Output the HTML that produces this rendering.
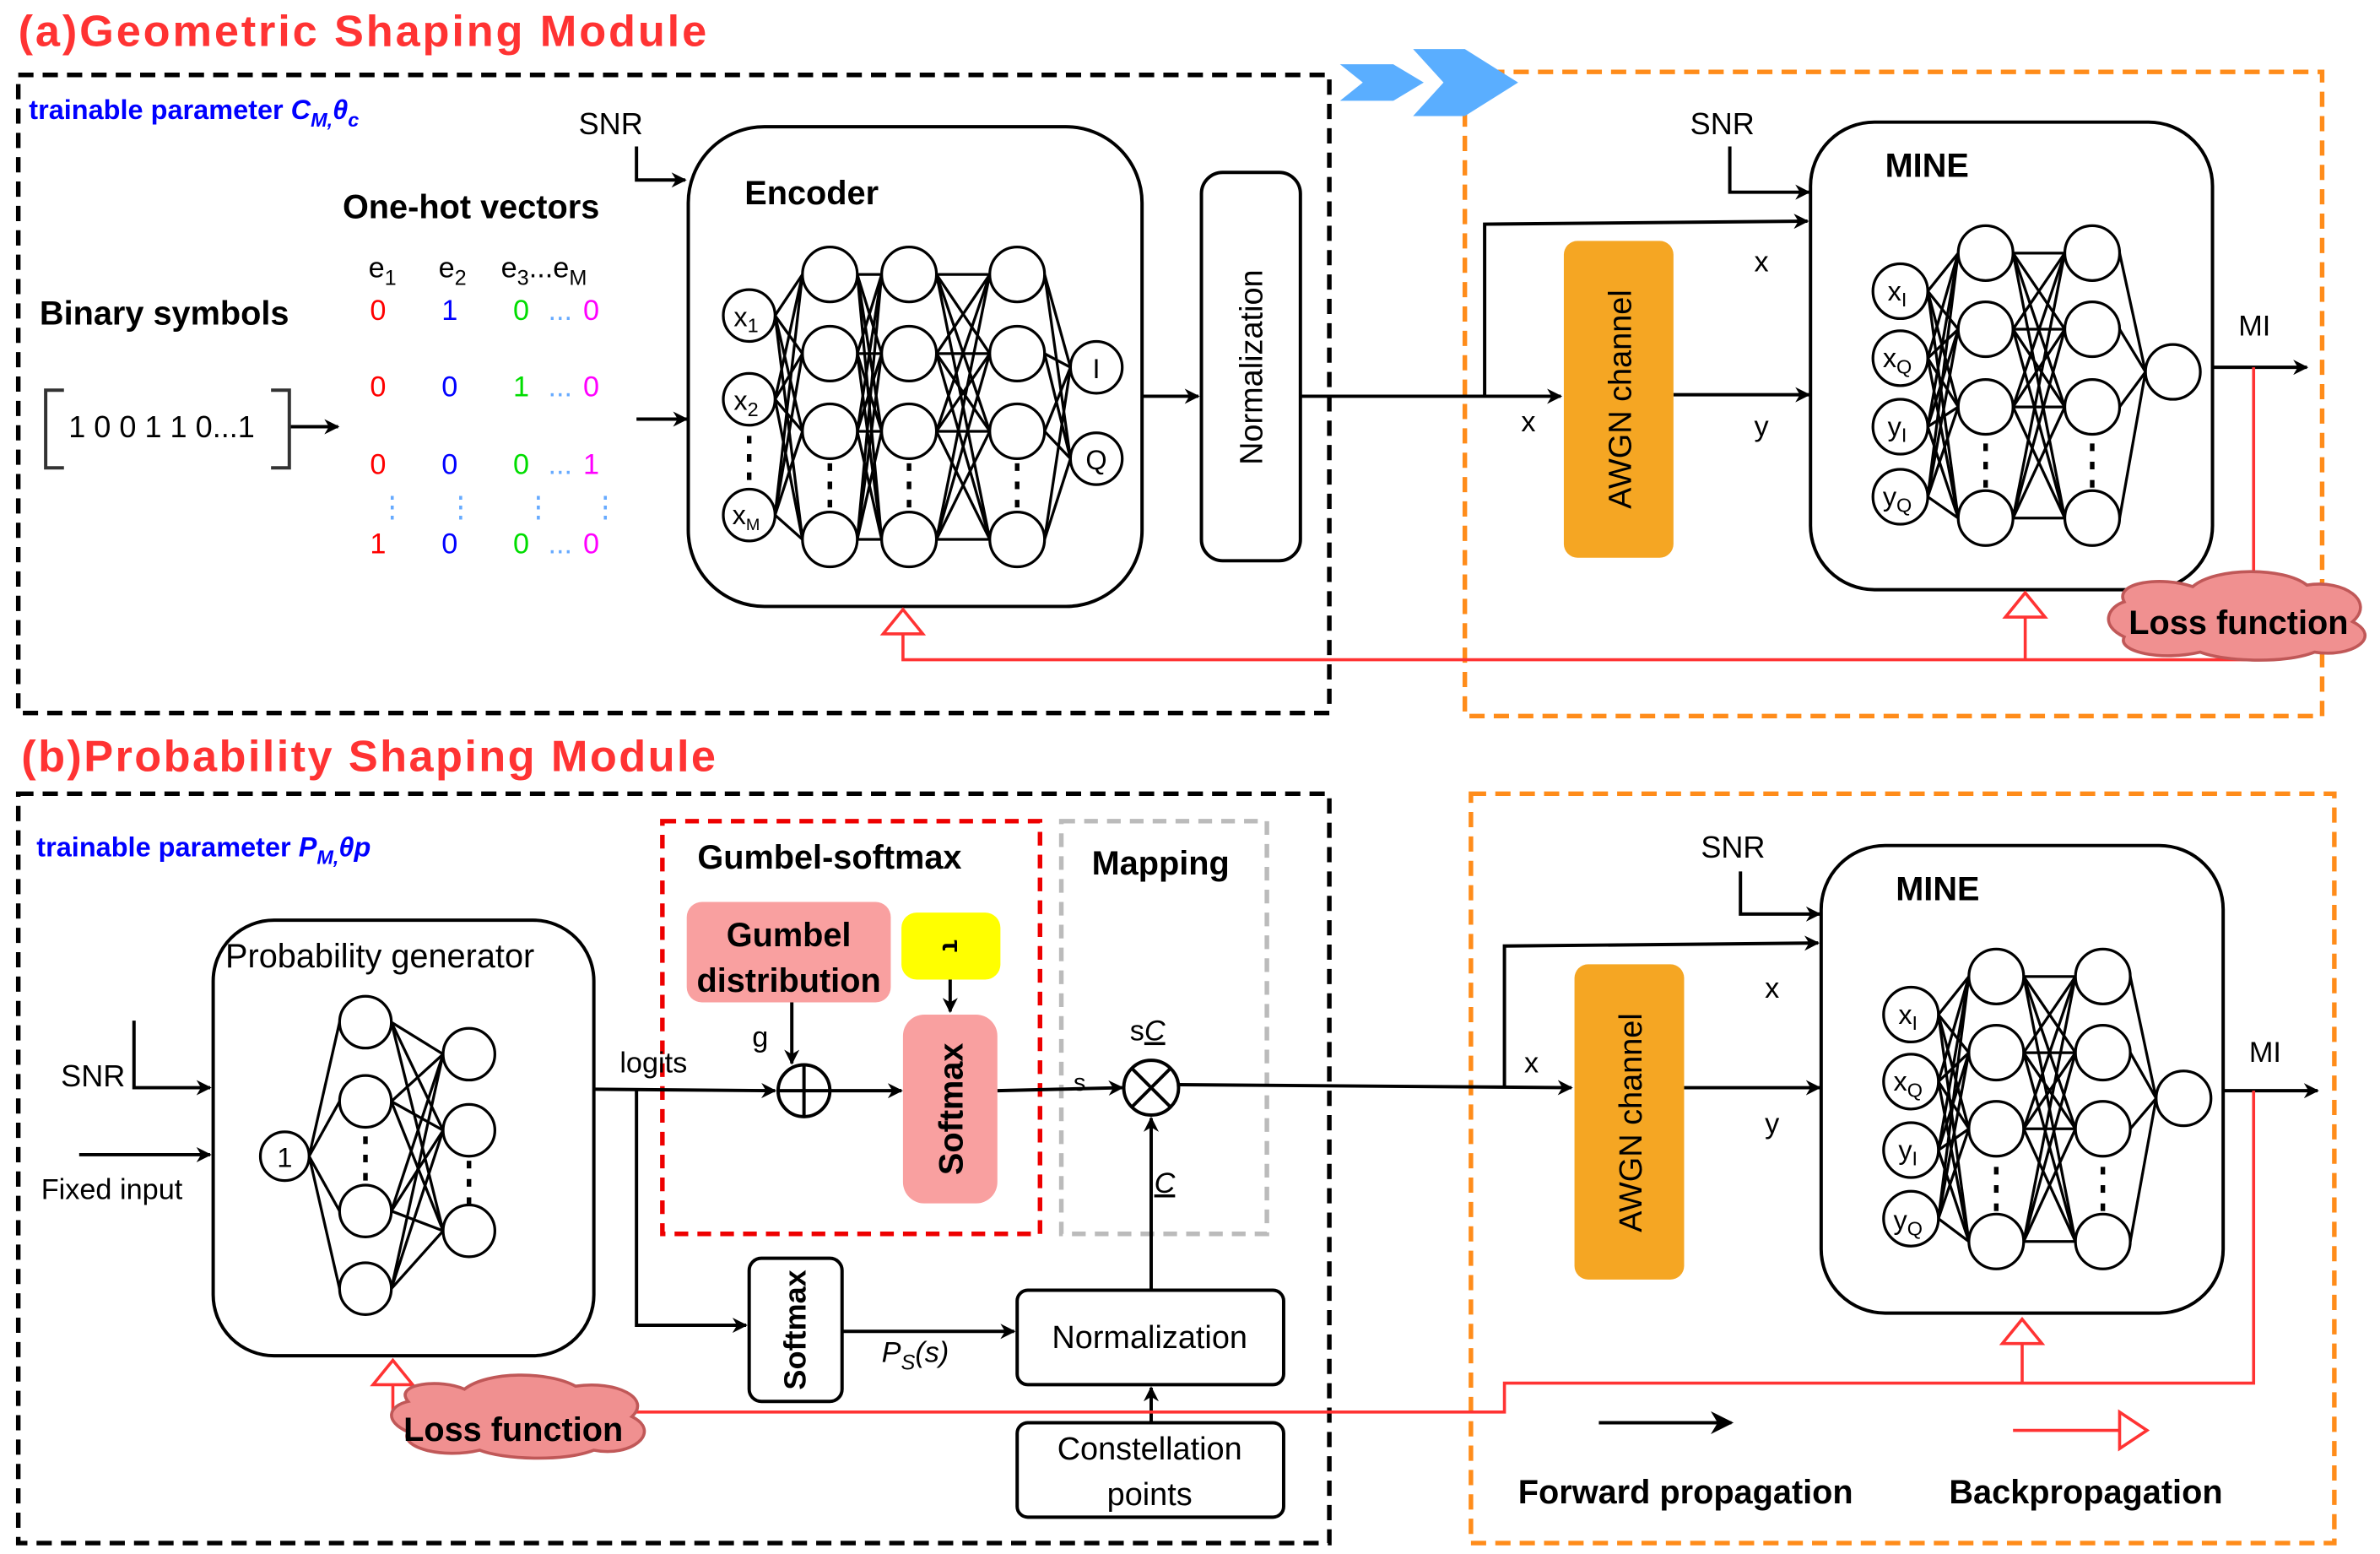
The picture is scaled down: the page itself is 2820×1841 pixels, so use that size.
<!DOCTYPE html>
<html><head><meta charset="utf-8"><style>
html,body{margin:0;padding:0;background:#fff}
svg{display:block}
text{font-family:"Liberation Sans",sans-serif}
.b{font-weight:bold}
</style></head><body>
<svg id="s" width="2820" height="1841" viewBox="0 0 1563 1020" xmlns="http://www.w3.org/2000/svg">
<defs>
<marker id="ar" viewBox="0 0 10 10" refX="9" refY="5" markerWidth="10" markerHeight="10" markerUnits="userSpaceOnUse" orient="auto"><path d="M0,0 L10,5 L0,10 L3,5z" fill="#000"/></marker>
<marker id="ar2" viewBox="0 0 10 10" refX="9" refY="5" markerWidth="15" markerHeight="15" markerUnits="userSpaceOnUse" orient="auto"><path d="M0,0 L10,5 L0,10 L3,5z" fill="#000"/></marker>
</defs>
<g fill="none" stroke-width="2">
<rect x="12" y="49" width="861" height="419" stroke="#000" stroke-width="3" stroke-dasharray="10,6"/>
<rect x="962" y="47" width="563" height="423" stroke="#ff8c1a" stroke-width="3" stroke-dasharray="10,6"/>
<rect x="12" y="521" width="861" height="492" stroke="#000" stroke-width="3" stroke-dasharray="10,6"/>
<rect x="966" y="521" width="567" height="492" stroke="#ff8c1a" stroke-width="3" stroke-dasharray="10,6"/>
<rect x="435" y="539" width="248" height="271" stroke="#e00" stroke-width="3" stroke-dasharray="9,6"/>
<rect x="697" y="539" width="135" height="271" stroke="#bbb" stroke-width="3" stroke-dasharray="9,6"/>
</g>
<path d="M880,42 L915,42 L935,54 L915,66 L880,66 L895,54z" fill="#5aaeff"/>
<path d="M928,32 L962,32 L997,54 L962,76 L928,76 L948,54z" fill="#5aaeff"/>

<text x="12" y="30" font-size="29" fill="#f33" class="b" textLength="452">(a)Geometric Shaping  Module</text>
<text x="14" y="506" font-size="29" fill="#f33" class="b" textLength="456">(b)Probability Shaping Module</text>
<text x="19" y="78" font-size="18" fill="#00f" class="b">trainable parameter <tspan font-style="italic">C<tspan font-size="13" dy="5">M,</tspan><tspan dy="-5">θ</tspan><tspan font-size="13" dy="5">c</tspan></tspan></text>
<text x="24" y="562" font-size="18" fill="#00f" class="b">trainable parameter <tspan font-style="italic">P<tspan font-size="13" dy="5">M,</tspan><tspan dy="-5">θp</tspan></tspan></text>

<g stroke="#000" stroke-width="2.2" fill="none">
<polyline points="418,96 418,118 450,118" marker-end="url(#ar)"/>
<line x1="190" y1="280" x2="222" y2="280" marker-end="url(#ar)"/>
<line x1="418" y1="275" x2="451" y2="275" marker-end="url(#ar)"/>
<path d="M42,256 H30 V307 H42 M178,256 H190 V307 H178" stroke="#333"/>
<rect x="452" y="83" width="298" height="315" rx="50"/>
<line x1="750" y1="260" x2="787" y2="260" marker-end="url(#ar)"/>
<rect x="789" y="113" width="65" height="255" rx="14"/>
<line x1="854" y1="260" x2="1025" y2="260" marker-end="url(#ar)"/>
<polyline points="975,260 975,147 1187,145" marker-end="url(#ar)"/>
<line x1="1099" y1="259" x2="1188" y2="259" marker-end="url(#ar)"/>
<polyline points="1136,96 1136,126 1188,126" marker-end="url(#ar)"/>
<rect x="1189" y="80" width="264" height="307" rx="42"/>
<line x1="1453" y1="241" x2="1515" y2="241" marker-end="url(#ar)"/>
<polyline points="88,670 88,714 138,714" marker-end="url(#ar)"/>
<line x1="52" y1="758" x2="138" y2="758" marker-end="url(#ar)"/>
<rect x="140" y="604" width="250" height="286" rx="40"/>
<line x1="390" y1="715" x2="509" y2="716" marker-end="url(#ar)"/>
<polyline points="418,715 418,870 490,870" marker-end="url(#ar)"/>
<line x1="520" y1="658" x2="520" y2="698" marker-end="url(#ar)"/>
<line x1="624" y1="643" x2="624" y2="664" marker-end="url(#ar)"/>
<line x1="545" y1="716" x2="592" y2="716" marker-end="url(#ar)"/>
<circle cx="528" cy="716" r="17"/>
<path d="M511,716 H545 M528,699 V733"/>
<line x1="655" y1="716" x2="737" y2="714" marker-end="url(#ar)"/>
<circle cx="756" cy="714" r="18"/>
<path d="M743,701 L769,727 M769,701 L743,727"/>
<line x1="774" y1="712" x2="1032" y2="714" marker-end="url(#ar)"/>
<polyline points="988,713 988,621 1194,619" marker-end="url(#ar)"/>
<line x1="756" y1="847" x2="756" y2="734" marker-end="url(#ar)"/>
<rect x="492" y="826" width="61" height="94" rx="8"/>
<line x1="553" y1="874" x2="666" y2="874" marker-end="url(#ar)"/>
<rect x="668" y="847" width="175" height="62" rx="7"/>
<rect x="668" y="934" width="175" height="62" rx="7"/>
<line x1="756" y1="934" x2="756" y2="911" marker-end="url(#ar)"/>
<line x1="1106" y1="714" x2="1195" y2="714" marker-end="url(#ar)"/>
<polyline points="1143,572 1143,600 1195,600" marker-end="url(#ar)"/>
<rect x="1196" y="555" width="264" height="307" rx="42"/>
<line x1="1460" y1="716" x2="1522" y2="716" marker-end="url(#ar)"/>
<line x1="1050" y1="934" x2="1137" y2="934" marker-end="url(#ar2)"/>
</g>

<g stroke="#f33" stroke-width="2" fill="none">
<polyline points="1480,241 1480,433 593,433 593,414"/>
<line x1="1330" y1="433" x2="1330" y2="404"/>
<path d="M593,400 L580,416 L606,416z" fill="#fff"/>
<path d="M1330,389 L1317,405 L1343,405z" fill="#fff"/>
<polyline points="1480,716 1480,908 988,908 988,927 258,927 258,908"/>
<line x1="1328" y1="908" x2="1328" y2="880"/>
<path d="M258,893 L245,909 L271,909z" fill="#fff"/>
<path d="M1328,866 L1315,882 L1341,882z" fill="#fff"/>
<line x1="1322" y1="939" x2="1392" y2="939"/>
<path d="M1392,927 L1410,939 L1392,951z" fill="#fff"/>
</g>

<g fill="#f09090" stroke="#c05858" stroke-width="2">
<path d="M1395,395 C1388,382 1420,378 1440,385 C1455,372 1500,372 1515,384 C1540,380 1560,395 1545,408 C1565,418 1545,432 1520,428 C1500,436 1460,434 1445,428 C1420,434 1390,428 1395,418 C1378,410 1385,398 1395,395z"/>
<path d="M268,920 C258,908 290,905 305,912 C320,900 360,900 378,910 C405,906 428,918 415,930 C435,940 415,957 390,952 C370,960 330,958 315,952 C290,958 262,950 268,940 C252,933 255,923 268,920z"/>
</g>
<text x="1398" y="416" font-size="22" class="b">Loss function</text>
<text x="265" y="946" font-size="22" class="b">Loss function</text>

<rect x="1027" y="158" width="72" height="208" rx="9" fill="#f5a623"/>
<rect x="1034" y="633" width="72" height="207" rx="9" fill="#f5a623"/>
<rect x="451" y="592" width="134" height="66" rx="10" fill="#f9a0a0"/>
<rect x="592" y="599" width="65" height="44" rx="10" fill="#ffff00"/>
<rect x="593" y="666" width="62" height="124" rx="14" fill="#f9a0a0"/>

<g id="nets" stroke="#000" stroke-width="1.8" fill="#fff"></g>

<g font-size="20">
<text x="380" y="88">SNR</text>
<text x="1110" y="88">SNR</text>
<text x="1117" y="563">SNR</text>
<text x="40" y="713">SNR</text>
<text x="225" y="143" font-size="22" class="b">One-hot vectors</text>
<text x="26" y="213" font-size="22" class="b">Binary symbols</text>
<text x="45" y="287" font-size="20">1 0 0 1 1 0...1</text>
<text x="489" y="134" font-size="22" class="b">Encoder</text>
<text x="1238" y="116" font-size="22" class="b">MINE</text>
<text x="1245" y="591" font-size="22" class="b">MINE</text>
<text x="242" y="182" font-size="19">e<tspan font-size="14" dy="5">1</tspan></text>
<text x="288" y="182" font-size="19">e<tspan font-size="14" dy="5">2</tspan></text>
<text x="329" y="182" font-size="19">e<tspan font-size="14" dy="5">3</tspan><tspan dy="-5">...e</tspan><tspan font-size="14" dy="5">M</tspan></text>
</g>
<g font-size="19">
<text x="243" y="210" fill="#f00">0</text><text x="290" y="210" fill="#00f">1</text><text x="337" y="210" fill="#0d0">0</text><text x="360" y="210" fill="#6af">...</text><text x="383" y="210" fill="#f0f">0</text>
<text x="243" y="260" fill="#f00">0</text><text x="290" y="260" fill="#00f">0</text><text x="337" y="260" fill="#0d0">1</text><text x="360" y="260" fill="#6af">...</text><text x="383" y="260" fill="#f0f">0</text>
<text x="243" y="311" fill="#f00">0</text><text x="290" y="311" fill="#00f">0</text><text x="337" y="311" fill="#0d0">0</text><text x="360" y="311" fill="#6af">...</text><text x="383" y="311" fill="#f0f">1</text>
<text x="248" y="339" fill="#6af">⋮</text><text x="293" y="339" fill="#6af">⋮</text><text x="344" y="339" fill="#6af">⋮</text><text x="388" y="339" fill="#6af">⋮</text>
<text x="243" y="363" fill="#f00">1</text><text x="290" y="363" fill="#00f">0</text><text x="337" y="363" fill="#0d0">0</text><text x="360" y="363" fill="#6af">...</text><text x="383" y="363" fill="#f0f">0</text>
</g>
<g font-size="19">
<text x="999" y="283">x</text><text x="1152" y="178">x</text><text x="1152" y="286">y</text>
<text x="1470" y="220">MI</text>
<text x="1001" y="704">x</text><text x="1159" y="655">x</text><text x="1159" y="744">y</text>
<text x="1477" y="697">MI</text>
<text x="407" y="704">logits</text>
<text x="494" y="687">g</text>
<text x="705" y="716" font-size="16">s</text>
<text x="742" y="683">s<tspan font-style="italic" text-decoration="underline">C</tspan></text>
<text x="758" y="783" font-style="italic" text-decoration="underline">C</text>
<text x="579" y="894" font-style="italic">P<tspan font-size="14" dy="5">S</tspan><tspan dy="-5">(s)</tspan></text>
<text x="27" y="787">Fixed input</text>
<text x="148" y="635" font-size="22">Probability generator</text>
<text x="458" y="570" font-size="22" class="b">Gumbel-softmax</text>
<text x="717" y="574" font-size="22" class="b">Mapping</text>
<text x="518" y="621" font-size="22" text-anchor="middle" class="b">Gumbel</text>
<text x="518" y="651" font-size="22" text-anchor="middle" class="b">distribution</text>
<text x="755" y="885" font-size="21" text-anchor="middle">Normalization</text>
<text x="755" y="958" font-size="21" text-anchor="middle">Constellation</text>
<text x="755" y="988" font-size="21" text-anchor="middle">points</text>
<text x="997" y="987" font-size="22" class="b">Forward propagation</text>
<text x="1280" y="987" font-size="22" class="b">Backpropagation</text>
<text transform="translate(829,241) rotate(-90)" font-size="21" text-anchor="middle">Normalization</text>
<text transform="translate(1071,262) rotate(-90)" font-size="21" text-anchor="middle">AWGN channel</text>
<text transform="translate(1078,737) rotate(-90)" font-size="21" text-anchor="middle">AWGN channel</text>
<text transform="translate(632,728) rotate(-90)" font-size="22" text-anchor="middle" class="b">Softmax</text>
<text transform="translate(529,873) rotate(-90)" font-size="20" text-anchor="middle" class="b">Softmax</text>
<text transform="translate(619,621) rotate(90)" font-size="18" text-anchor="middle" class="b">τ</text>
</g>
<g id="lbl" font-size="18" text-anchor="middle">
<text x="490" y="214">x<tspan font-size="13" dy="4">1</tspan></text>
<text x="490" y="269">x<tspan font-size="13" dy="4">2</tspan></text>
<text x="490" y="344">x<tspan font-size="11" dy="4">M</tspan></text>
<text x="720" y="248">I</text>
<text x="720" y="308">Q</text>
<text x="1246" y="197">x<tspan font-size="13" dy="4">I</tspan></text>
<text x="1246" y="241">x<tspan font-size="13" dy="4">Q</tspan></text>
<text x="1246" y="286">y<tspan font-size="13" dy="4">I</tspan></text>
<text x="1246" y="332">y<tspan font-size="13" dy="4">Q</tspan></text>
<text x="1253" y="672">x<tspan font-size="13" dy="4">I</tspan></text>
<text x="1253" y="716">x<tspan font-size="13" dy="4">Q</tspan></text>
<text x="1253" y="761">y<tspan font-size="13" dy="4">I</tspan></text>
<text x="1253" y="807">y<tspan font-size="13" dy="4">Q</tspan></text>
<text x="187" y="766">1</text>
</g>
</svg>
<script>
(function(){
var NS='http://www.w3.org/2000/svg';
var g=document.getElementById('nets');
var svg=document.getElementById('s');
var lbl=document.getElementById('lbl');
var lineG=document.createElementNS(NS,'g'),circG=document.createElementNS(NS,'g');
g.appendChild(lineG);g.appendChild(circG);
function el(p,n,a){var e=document.createElementNS(NS,n);for(var k in a)e.setAttribute(k,a[k]);p.appendChild(e);return e;}
function net(layers){
 for(var i=0;i<layers.length-1;i++){var A=layers[i],B=layers[i+1];
  for(var j=0;j<A.n.length;j++)for(var k=0;k<B.n.length;k++)
   el(lineG,'line',{x1:A.x+A.r,y1:A.n[j],x2:B.x-B.r,y2:B.n[k]});}
 for(var i=0;i<layers.length;i++){var L=layers[i];
  for(var j=0;j<L.n.length;j++)el(circG,'circle',{cx:L.x,cy:L.n[j],r:L.r});
  if(L.d){for(var t=-1;t<=1;t++)el(circG,'rect',{x:L.x-1.5,y:L.d+t*12-2,width:3,height:5,fill:'#000',stroke:'none'});}}
}
net([{x:492,r:17,n:[207,262,338],d:300},{x:545,r:18,n:[180,232,283,354],d:318},{x:597,r:18,n:[180,232,283,354],d:318},{x:668,r:18,n:[180,232,283,354],d:318},{x:720,r:17,n:[241,301]}]);
net([{x:1248,r:18,n:[191,235,280,326]},{x:1304,r:18,n:[166,216,267,340],d:305},{x:1374,r:18,n:[166,216,267,340],d:305},{x:1427,r:18,n:[244]}]);
net([{x:1255,r:18,n:[666,710,755,800]},{x:1311,r:18,n:[641,691,741,815],d:780},{x:1381,r:18,n:[641,691,741,815],d:780},{x:1434,r:18,n:[721]}]);
net([{x:187,r:16,n:[759]},{x:240,r:17,n:[671,723,795,846],d:760},{x:308,r:17,n:[692,742,808],d:776}]);
svg.appendChild(lbl);
})();
</script>
</body></html>
